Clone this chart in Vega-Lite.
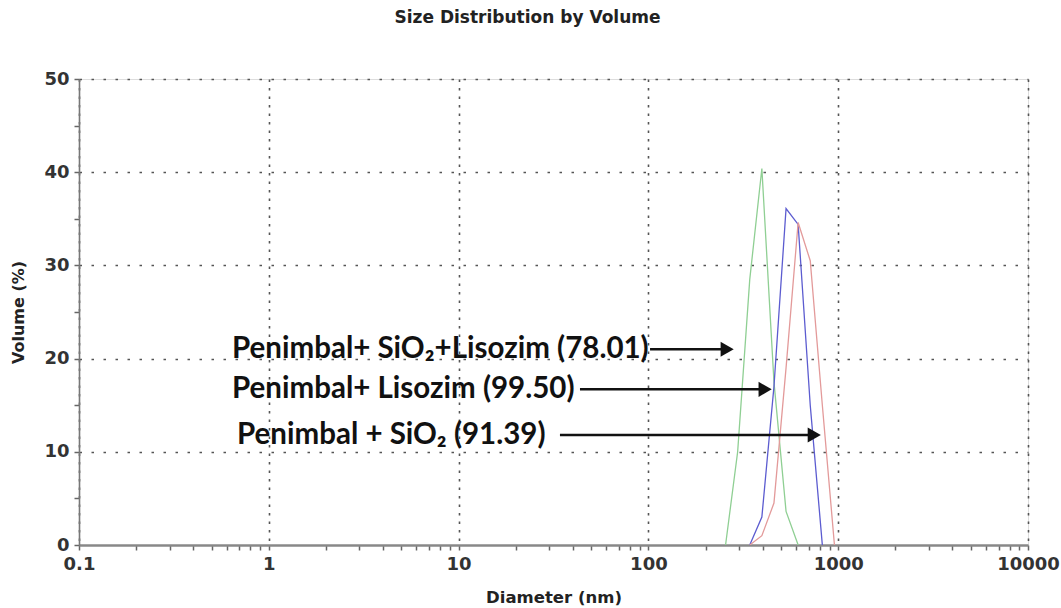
{
  "$schema": "https://vega.github.io/schema/vega-lite/v6.json",
  "autosize": "none",
  "width": 949,
  "height": 466,
  "padding": {"left": 79, "top": 79, "right": 33, "bottom": 63},
  "background": "white",
  "title": {
    "text": "Size Distribution by Volume",
    "font": "DejaVu Sans",
    "fontWeight": "bold",
    "fontSize": 17,
    "color": "#222",
    "anchor": "middle",
    "dx": -26,
    "offset": 43
  },
  "datasets": {
    "curves": [
      {"sample": "Penimbal+ SiO2+Lisozim", "diameter": 255.0, "volume": 0},
      {"sample": "Penimbal+ SiO2+Lisozim", "diameter": 295.3, "volume": 10.0},
      {"sample": "Penimbal+ SiO2+Lisozim", "diameter": 342.0, "volume": 28.5},
      {"sample": "Penimbal+ SiO2+Lisozim", "diameter": 396.1, "volume": 40.4},
      {"sample": "Penimbal+ SiO2+Lisozim", "diameter": 458.7, "volume": 17.5},
      {"sample": "Penimbal+ SiO2+Lisozim", "diameter": 531.2, "volume": 3.6},
      {"sample": "Penimbal+ SiO2+Lisozim", "diameter": 615.1, "volume": 0},
      {"sample": "Penimbal+ Lisozim", "diameter": 342.0, "volume": 0},
      {"sample": "Penimbal+ Lisozim", "diameter": 396.1, "volume": 3.0},
      {"sample": "Penimbal+ Lisozim", "diameter": 458.7, "volume": 17.0},
      {"sample": "Penimbal+ Lisozim", "diameter": 531.2, "volume": 36.1},
      {"sample": "Penimbal+ Lisozim", "diameter": 615.1, "volume": 34.4},
      {"sample": "Penimbal+ Lisozim", "diameter": 712.4, "volume": 15.0},
      {"sample": "Penimbal+ Lisozim", "diameter": 825.0, "volume": 0},
      {"sample": "Penimbal + SiO2", "diameter": 342.0, "volume": 0},
      {"sample": "Penimbal + SiO2", "diameter": 396.1, "volume": 1.0},
      {"sample": "Penimbal + SiO2", "diameter": 458.7, "volume": 4.5},
      {"sample": "Penimbal + SiO2", "diameter": 531.2, "volume": 19.0},
      {"sample": "Penimbal + SiO2", "diameter": 615.1, "volume": 34.6},
      {"sample": "Penimbal + SiO2", "diameter": 712.4, "volume": 30.5},
      {"sample": "Penimbal + SiO2", "diameter": 825.0, "volume": 15.0},
      {"sample": "Penimbal + SiO2", "diameter": 955.4, "volume": 0}
    ],
    "labels": [
      {"text": "Penimbal+ SiO₂+Lisozim (78.01)", "diameter": 0.64, "volume": 21.0},
      {"text": "Penimbal+ Lisozim (99.50)", "diameter": 0.64, "volume": 16.7},
      {"text": "Penimbal + SiO₂ (91.39)", "diameter": 0.68, "volume": 11.8}
    ],
    "arrows": [
      {"start": 102, "diameter": 260, "volume": 21.0},
      {"start": 43.6, "diameter": 412, "volume": 16.7},
      {"start": 34.2, "diameter": 748, "volume": 11.8}
    ]
  },
  "layer": [
    {
      "data": {"name": "curves"},
      "mark": {"type": "line", "strokeWidth": 1.3, "clip": true},
      "encoding": {
        "x": {
          "field": "diameter",
          "type": "quantitative",
          "scale": {"type": "log", "domain": [0.1, 10000]},
          "axis": {
            "title": "Diameter (nm)",
            "values": [0.1, 0.2, 0.3, 0.4, 0.5, 0.6, 0.7, 0.8, 0.9, 1, 2, 3, 4, 5, 6, 7, 8, 9, 10, 20, 30, 40, 50, 60, 70, 80, 90, 100, 200, 300, 400, 500, 600, 700, 800, 900, 1000, 2000, 3000, 4000, 5000, 6000, 7000, 8000, 9000, 10000],
            "labelExpr": "indexof([0.1, 1, 10, 100, 1000, 10000], datum.value) >= 0 ? '' + datum.value : ''",
            "labelOverlap": false,
            "labelFlush": false,
            "labelFont": "DejaVu Sans",
            "labelFontWeight": "bold",
            "labelFontSize": 18,
            "labelColor": "#333",
            "labelPadding": 5,
            "grid": true,
            "gridOpacity": {"condition": {"test": "indexof([0.1, 1, 10, 100, 1000, 10000], datum.value) >= 0", "value": 1}, "value": 0},
            "gridColor": "#555",
            "gridDash": [2.5, 6],
            "gridWidth": 1.6,
            "domainColor": "#888",
            "domainWidth": 2.5,
            "ticks": true,
            "tickColor": "#666",
            "tickSize": 5,
            "tickWidth": 1.5,
            "titleFont": "DejaVu Sans",
            "titleFontWeight": "bold",
            "titleFontSize": 16.5,
            "titleColor": "#222",
            "titleY": 52,
            "titleBaseline": "middle"
          }
        },
        "y": {
          "field": "volume",
          "type": "quantitative",
          "scale": {"domain": [0, 50]},
          "axis": {
            "title": "Volume (%)",
            "values": [0, 5, 10, 15, 20, 25, 30, 35, 40, 45, 50],
            "labelExpr": "datum.value % 10 == 0 ? datum.label : ''",
            "labelFlush": false,
            "labelOverlap": false,
            "labelFont": "DejaVu Sans",
            "labelFontWeight": "bold",
            "labelFontSize": 18,
            "labelColor": "#333",
            "labelPadding": 5,
            "grid": true,
            "gridOpacity": {"condition": {"test": "datum.value % 10 == 0 && datum.value > 0", "value": 1}, "value": 0},
            "gridColor": "#555",
            "gridDash": [2.5, 9.5],
            "gridWidth": 1.6,
            "domainColor": "#777",
            "domainWidth": 1.6,
            "ticks": true,
            "tickColor": "#666",
            "tickSize": 5,
            "tickWidth": 1.5,
            "titleFont": "DejaVu Sans",
            "titleFontWeight": "bold",
            "titleFontSize": 16,
            "titleColor": "#222",
            "titleX": -61,
            "titleY": 233,
            "titleBaseline": "middle"
          }
        },
        "color": {
          "field": "sample",
          "type": "nominal",
          "scale": {
            "domain": ["Penimbal+ SiO2+Lisozim", "Penimbal+ Lisozim", "Penimbal + SiO2"],
            "range": ["#8fcf93", "#5c5cd0", "#e39a9a"]
          },
          "legend": null
        }
      }
    },
    {
      "data": {"name": "arrows"},
      "mark": {"type": "rule", "strokeWidth": 2.5, "color": "#111"},
      "encoding": {
        "x": {"field": "diameter", "type": "quantitative"},
        "x2": {"field": "start"},
        "y": {"field": "volume", "type": "quantitative"}
      }
    },
    {
      "data": {"name": "arrows"},
      "mark": {"type": "point", "shape": "triangle-right", "filled": true, "color": "#111", "opacity": 1, "size": 230},
      "encoding": {
        "x": {"field": "diameter", "type": "quantitative"},
        "y": {"field": "volume", "type": "quantitative"}
      }
    },
    {
      "data": {"name": "labels"},
      "mark": {"type": "text", "align": "left", "baseline": "middle", "font": "Lato", "fontWeight": "bold", "fontSize": 29.5, "color": "#111"},
      "encoding": {
        "x": {"field": "diameter", "type": "quantitative"},
        "y": {"field": "volume", "type": "quantitative"},
        "text": {"field": "text"}
      }
    }
  ]
}
